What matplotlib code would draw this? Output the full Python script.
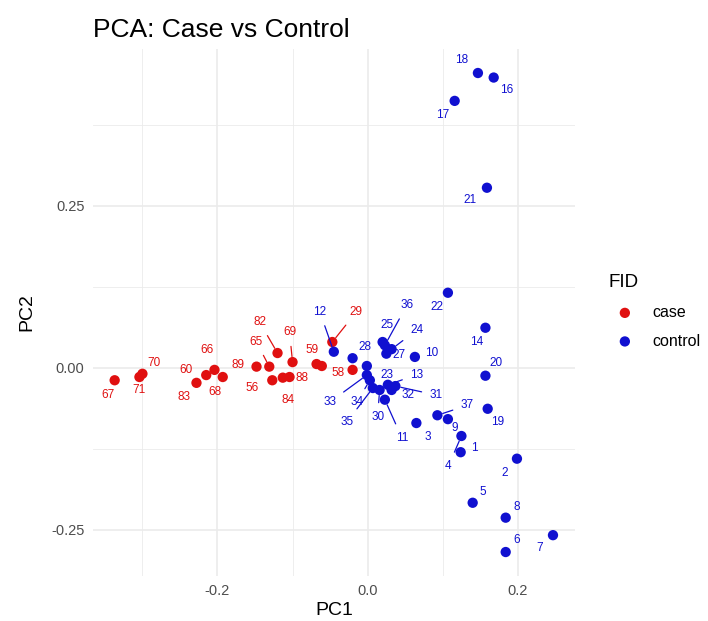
import matplotlib.pyplot as plt
from matplotlib.ticker import FixedLocator
import math

plt.rcParams['font.family'] = ['Liberation Sans', 'DejaVu Sans']

# PCA scores per sample
case_ids = ["67", "71", "70", "83", "60", "66", "68", "89", "65", "82",
            "69", "59", "62", "56", "84", "88", "58", "29"]
case_pc1 = [-0.337, -0.304, -0.300, -0.228, -0.215, -0.204, -0.193, -0.148, -0.131, -0.120,
            -0.100, -0.068, -0.061, -0.127, -0.113, -0.104, -0.020, -0.047]
case_pc2 = [-0.019, -0.014, -0.009, -0.023, -0.011, -0.003, -0.014, 0.002, 0.002, 0.023,
            0.009, 0.006, 0.003, -0.019, -0.015, -0.014, -0.003, 0.040]

control_ids = ["18", "16", "17", "21", "22", "14", "20", "19", "10", "27",
               "36", "24", "25", "12", "28", "23", "33", "34", "35", "30",
               "13", "32", "31", "11", "3", "37", "9", "4", "1", "2",
               "5", "8", "7", "6"]
control_pc1 = [0.147, 0.168, 0.116, 0.159, 0.107, 0.157, 0.157, 0.160, 0.063, 0.025,
               0.023, 0.032, 0.020, -0.045, -0.020, -0.001, -0.001, 0.003, 0.007, 0.016,
               0.027, 0.032, 0.037, 0.023, 0.065, 0.093, 0.107, 0.125, 0.124, 0.199,
               0.140, 0.184, 0.247, 0.184]
control_pc2 = [0.455, 0.448, 0.412, 0.278, 0.116, 0.062, -0.012, -0.063, 0.017, 0.022,
               0.035, 0.029, 0.040, 0.025, 0.015, 0.003, -0.011, -0.019, -0.031, -0.034,
               -0.026, -0.034, -0.028, -0.049, -0.085, -0.073, -0.079, -0.105, -0.130, -0.140,
               -0.208, -0.231, -0.258, -0.284]

# repelled label offsets in pixels (right, down); None = label dropped
label_offsets = {
    "67": (-7, 15), "71": (0, 13), "70": (12, -11), "83": (-12, 14), "60": (-20, -5),
    "66": (-7, -20), "68": (-8, 15), "89": (-19, -2), "65": (-13, -25), "82": (-18, -31),
    "69": (-3, -30), "59": (-5, -14), "62": None, "56": (-20, 8), "84": (5, 22),
    "88": (12, 1), "58": (-15, 3), "29": (24, -30),
    "18": (-16, -13), "16": (13, 12), "17": (-12, 14), "21": (-17, 12), "22": (-11, 14),
    "14": (-9, 14), "20": (11, -13), "19": (10, 13), "10": (17, -4), "27": (13, 1),
    "36": (22, -40), "24": (25, -19), "25": (4, -17), "12": (-14, -40), "28": (12, -11),
    "23": (20, 9), "33": (-37, 27), "34": (-13, 22), "35": (-26, 34), "30": (-2, 27),
    "13": (29, -10), "32": (16, 5), "31": (41, 9), "11": (17, 38), "3": (11, 14),
    "37": (30, -10), "9": (7, 9), "4": (-13, 30), "1": (14, -4), "2": (-12, 14),
    "5": (10, -11), "8": (11, -11), "7": (-13, 13), "6": (11, -12),
}

case_col = "#E01010"
control_col = "#1010D0"

fig = plt.figure(figsize=(7.08, 6.21), dpi=100)
ax = fig.add_axes([0.131, 0.0725, 0.681, 0.8485])

groups = [("case", case_ids, case_pc1, case_pc2, case_col),
          ("control", control_ids, control_pc1, control_pc2, control_col)]

for name, ids, xs, ys, col in groups:
    ax.scatter(xs, ys, s=55, color=col, edgecolors="none", zorder=3, label=name)
    for lab, x, y in zip(ids, xs, ys):
        off = label_offsets.get(lab)
        if off is None:
            continue
        dx, dy = off
        arrow = None
        if math.hypot(dx, dy) > 24:
            arrow = dict(arrowstyle="-", color=col, lw=0.9, shrinkA=4, shrinkB=4)
        ax.annotate(lab, (x, y), xytext=(dx, -dy), textcoords="offset pixels",
                    ha="center", va="center", fontsize=8.5, color=col,
                    arrowprops=arrow, zorder=4)

ax.set_xticks([-0.2, 0.0, 0.2])
ax.set_xticklabels(["-0.2", "0.0", "0.2"])
ax.set_yticks([-0.25, 0.0, 0.25])
ax.set_yticklabels(["-0.25", "0.00", "0.25"])
ax.xaxis.set_minor_locator(FixedLocator([-0.3, -0.1, 0.1]))
ax.yaxis.set_minor_locator(FixedLocator([-0.125, 0.125, 0.375]))

ax.grid(True, which="major", color="#EBEBEB", lw=1.2, zorder=0)
ax.grid(True, which="minor", color="#EBEBEB", lw=0.6, zorder=0)
ax.set_axisbelow(True)
for sp in ax.spines.values():
    sp.set_visible(False)
ax.tick_params(which="both", length=0, labelsize=10.5, labelcolor="#4D4D4D", pad=6)

ax.set_xlabel("PC1", fontsize=14, labelpad=3)
ax.set_ylabel("PC2", fontsize=14, labelpad=11)
ax.set_title("PCA: Case vs Control", loc="left", fontsize=19, pad=9)

leg = ax.legend(title="FID", loc="upper left", bbox_to_anchor=(0.860, 0.558),
                bbox_transform=fig.transFigure, frameon=False, fontsize=11.5,
                title_fontsize=13.5, handletextpad=0.7, labelspacing=0.85,
                borderpad=0, markerscale=1.0, alignment="left", borderaxespad=0)

fig.savefig("out.png", dpi=100)
